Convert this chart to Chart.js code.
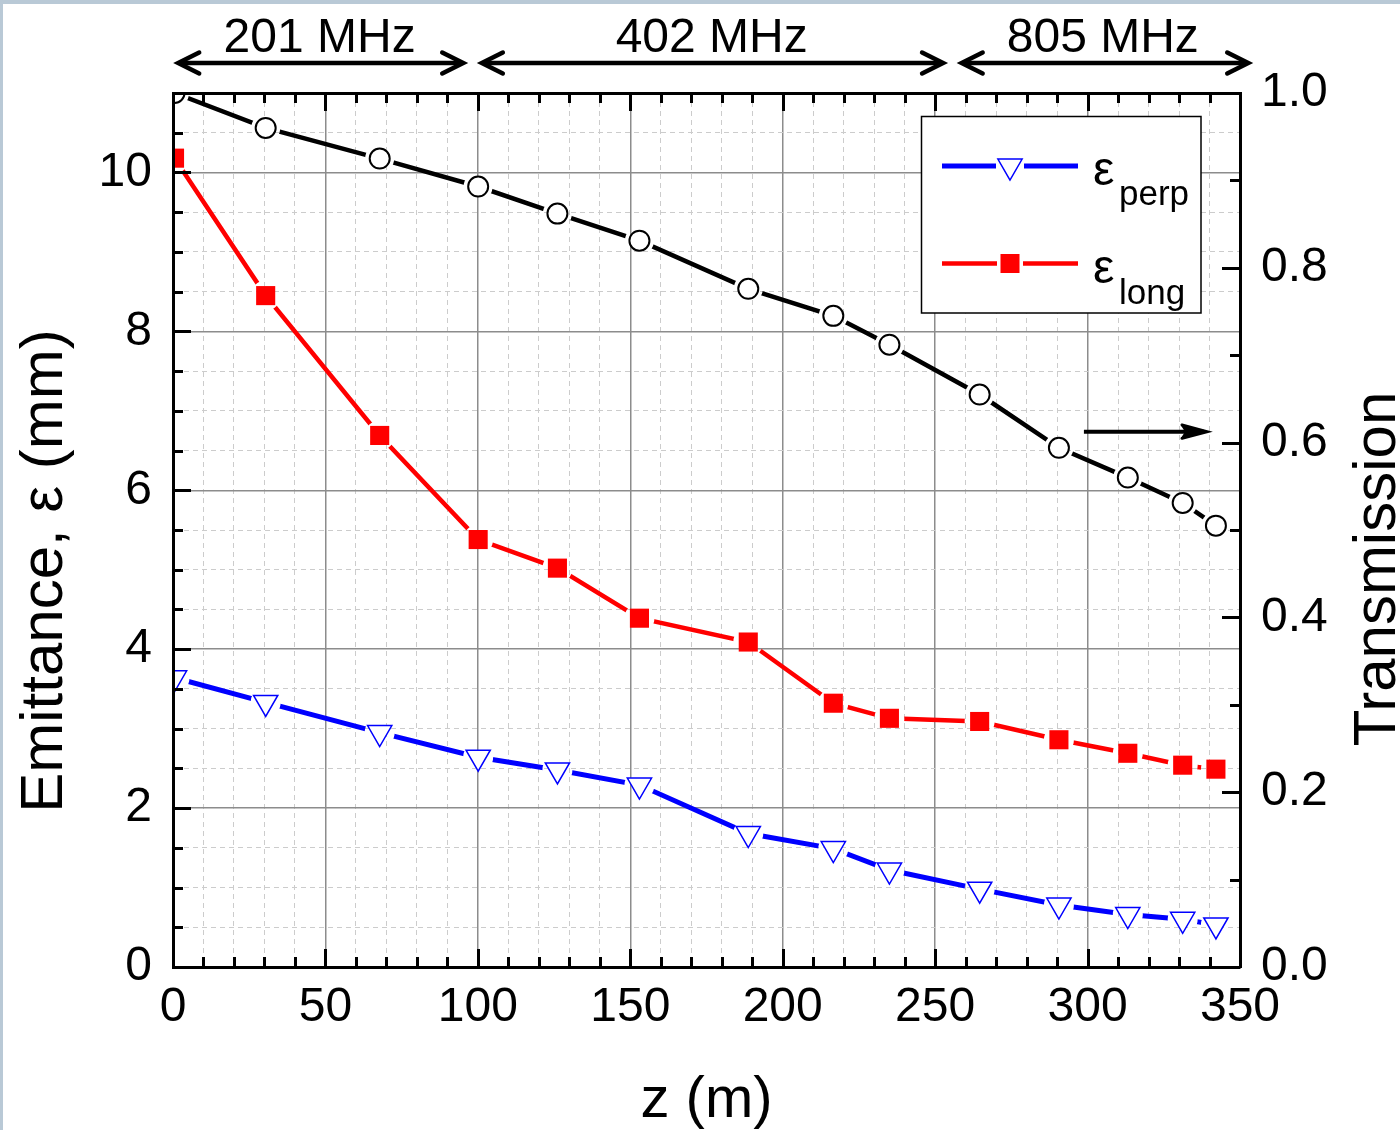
<!DOCTYPE html>
<html><head><meta charset="utf-8">
<script src="https://cdn.jsdelivr.net/npm/chart.js@4/dist/chart.umd.min.js"></script>
<style>html,body{margin:0;padding:0;background:#fff;}canvas{display:block;}</style>
</head><body>
<canvas id="c" width="1400" height="1130"></canvas>
<script>
// ---------- data ----------
const zPositions   = [0.5, 30.4, 67.8, 100.1, 126.1, 153.0, 188.7, 216.6, 235.0, 264.6, 290.6, 313.2, 331.2, 342.1];
const epsPerp      = [3.64, 3.33, 2.95, 2.64, 2.48, 2.29, 1.68, 1.49, 1.22, 0.98, 0.78, 0.66, 0.60, 0.53];
const epsLong      = [10.18, 8.45, 6.69, 5.38, 5.02, 4.39, 4.09, 3.32, 3.13, 3.09, 2.86, 2.69, 2.54, 2.49];
const transmission = [1.000, 0.960, 0.925, 0.893, 0.862, 0.831, 0.776, 0.745, 0.712, 0.655, 0.594, 0.560, 0.531, 0.505];
const bandLabels   = ['201 MHz', '402 MHz', '805 MHz'];
const bandStarts   = [1.7, 101.3, 258.7];
const bandEnds     = [95.2, 252.6, 352.7];
const bandLabelAt  = [48.1, 176.7, 305.0];
const legendSubs   = ['perp', 'long'];
const xTitle = 'z (m)';
const yTitle = 'Emittance, \u03B5 (mm)';
const y2Title = 'Transmission';

const FF = '"Liberation Sans", Arial, Helvetica, sans-serif';
const pts = arr => zPositions.map((z, i) => ({x: z, y: arr[i]}));
const near = (v, m) => Math.abs(v / m - Math.round(v / m)) < 1e-6;

// ---------- plugins ----------
const bgPlugin = {
  id: 'bg',
  beforeDraw(chart) {
    const c = chart.ctx;
    c.save();
    c.fillStyle = '#fff'; c.fillRect(0, 0, chart.width, chart.height);
    c.fillStyle = '#b9c9d6';
    c.fillRect(0, 0, chart.width, 4);
    c.fillRect(0, 0, 3, chart.height);
    c.restore();
  }
};

const gapPlugin = {
  id: 'gaps',
  beforeDatasetDraw(chart, args) {
    const ds = chart.data.datasets[args.index];
    if (!ds.gapRadius) return;
    const c = chart.ctx;
    c.save();
    c.beginPath();
    c.rect(0, 0, chart.width, chart.height);
    args.meta.data.forEach(p => {
      c.moveTo(p.x + ds.gapRadius, p.y);
      c.arc(p.x, p.y, ds.gapRadius, 0, Math.PI * 2);
    });
    c.clip('evenodd');
  },
  afterDatasetDraw(chart, args) {
    if (chart.data.datasets[args.index].gapRadius) chart.ctx.restore();
  }
};

function seg(c, x1, y1, x2, y2) { c.beginPath(); c.moveTo(x1, y1); c.lineTo(x2, y2); c.stroke(); }
function chevron(c, tipX, y, dir, len, half) {
  c.beginPath();
  c.moveTo(tipX - dir * len, y - half);
  c.lineTo(tipX, y);
  c.lineTo(tipX - dir * len, y + half);
  c.stroke();
}

const decorPlugin = {
  id: 'decor',
  afterDraw(chart) {
    const c = chart.ctx, a = chart.chartArea;
    const xs = chart.scales.x, ys = chart.scales.y, y2 = chart.scales.y2;
    c.save();
    // tick marks (inward)
    c.strokeStyle = '#000'; c.lineWidth = 3; c.lineCap = 'butt';
    xs.ticks.forEach(t => {
      const px = Math.round(xs.getPixelForValue(t.value)) + 0.5;
      const L = near(t.value, 50) ? 18 : 10;
      seg(c, px, a.bottom, px, a.bottom - L);
      seg(c, px, a.top, px, a.top + L);
    });
    ys.ticks.forEach(t => {
      const py = Math.round(ys.getPixelForValue(t.value)) + 0.5;
      const L = near(t.value, 2) ? 18 : 10;
      seg(c, a.left, py, a.left + L, py);
    });
    y2.ticks.forEach(t => {
      const py = Math.round(y2.getPixelForValue(t.value)) + 0.5;
      const L = near(t.value, 0.2) ? 18 : 10;
      seg(c, a.right, py, a.right - L, py);
    });

    // frequency bands above the plot
    c.fillStyle = '#000';
    c.font = '48px ' + FF;
    c.textAlign = 'center'; c.textBaseline = 'alphabetic';
    c.lineWidth = 4.5; c.lineJoin = 'miter'; c.lineCap = 'round';
    bandLabels.forEach((lab, i) => {
      const x1 = xs.getPixelForValue(bandStarts[i]);
      const x2 = xs.getPixelForValue(bandEnds[i]);
      const y = 63;
      c.fillText(lab, xs.getPixelForValue(bandLabelAt[i]), 52);
      seg(c, x1 + 2, y, x2 - 2, y);
      chevron(c, x2, y, 1, 21, 10.5);
      chevron(c, x1, y, -1, 21, 10.5);
    });

    // arrow pointing to the transmission axis
    const ax1 = xs.getPixelForValue(298.8), ax2 = xs.getPixelForValue(339.2);
    const ay = y2.getPixelForValue(0.6125);
    c.lineCap = 'butt'; c.lineWidth = 4;
    seg(c, ax1, ay, ax2 - 3, ay);
    c.beginPath();
    c.moveTo(ax2, ay);
    c.lineTo(ax2 - 27, ay - 7.5);
    c.lineTo(ax2 - 22, ay);
    c.lineTo(ax2 - 27, ay + 7.5);
    c.closePath();
    c.fill();
    c.lineWidth = 3;
    chevron(c, ax2, ay, 1, 26, 7);

    // axis titles (left and right)
    c.font = '60px ' + FF;
    c.textAlign = 'center'; c.textBaseline = 'alphabetic';
    c.save(); c.translate(62, 571); c.rotate(-Math.PI / 2); c.fillText(yTitle, 0, 0); c.restore();
    c.save(); c.translate(1395, 569); c.rotate(-Math.PI / 2); c.fillText(y2Title, 0, 0); c.restore();

    // legend
    c.fillStyle = '#fff';
    c.fillRect(921, 116, 280, 197);
    c.strokeStyle = '#000'; c.lineWidth = 1.5;
    c.strokeRect(921.5, 116.5, 279.5, 196.5);
    // row 1 : perp
    let ly = 166;
    c.strokeStyle = '#0000ff'; c.lineWidth = 5; c.lineCap = 'butt';
    seg(c, 942, ly, 996, ly); seg(c, 1024, ly, 1078, ly);
    const r = 14, cx = 1010;
    c.beginPath();
    for (let k = 0; k < 3; k++) {
      const ang = Math.PI + k * 2 * Math.PI / 3;
      const px = cx + Math.sin(ang) * r, py = ly - Math.cos(ang) * r;
      if (k === 0) c.moveTo(px, py); else c.lineTo(px, py);
    }
    c.closePath(); c.fillStyle = '#fff'; c.fill(); c.lineWidth = 1.5; c.stroke();
    // row 2 : long
    ly = 263.5;
    c.strokeStyle = '#ff0000'; c.lineWidth = 4.5;
    seg(c, 942, ly, 997, ly); seg(c, 1023, ly, 1078, ly);
    c.fillStyle = '#ff0000'; c.fillRect(cx - 9.5, ly - 9.5, 19, 19);
    // legend texts
    c.fillStyle = '#000'; c.textAlign = 'left';
    c.font = '48px ' + FF;
    c.fillText('\u03B5', 1093, 185);
    c.fillText('\u03B5', 1093, 283);
    c.font = '35px ' + FF;
    c.fillText(legendSubs[0], 1119, 205);
    c.fillText(legendSubs[1], 1119, 304);
    c.restore();
  }
};

// ---------- chart ----------
const majorX = c => c.tick && near(c.tick.value, 50);
const majorY = c => c.tick && near(c.tick.value, 2);
const tickFont = {family: FF, size: 48};

new Chart(document.getElementById('c'), {
  type: 'line',
  data: {
    datasets: [
      {label: '\u03B5perp', data: pts(epsPerp), yAxisID: 'y', showLine: false,
       pointStyle: 'triangle', pointRotation: 180, pointRadius: 14, pointBorderWidth: 1.5,
       pointBorderColor: '#0000ff', pointBackgroundColor: '#ffffff', clip: 0},
      {label: '\u03B5long', data: pts(epsLong), yAxisID: 'y', showLine: false,
       pointStyle: 'rect', pointRadius: 13.5, pointBorderWidth: 0,
       pointBorderColor: '#ff0000', pointBackgroundColor: '#ff0000', clip: 0},
      {label: 'Transmission', data: pts(transmission), yAxisID: 'y2', showLine: false,
       pointStyle: 'circle', pointRadius: 10, pointBorderWidth: 2,
       pointBorderColor: '#000000', pointBackgroundColor: '#ffffff', clip: 0},
      {label: 'perp line', data: pts(epsPerp), yAxisID: 'y', borderColor: '#0000ff',
       borderWidth: 5, pointRadius: 0, tension: 0, gapRadius: 15, clip: 0},
      {label: 'long line', data: pts(epsLong), yAxisID: 'y', borderColor: '#ff0000',
       borderWidth: 4.5, pointRadius: 0, tension: 0, gapRadius: 15, clip: 0},
      {label: 'trans line', data: pts(transmission), yAxisID: 'y2', borderColor: '#000000',
       borderWidth: 4.5, pointRadius: 0, tension: 0, gapRadius: 14.5, clip: 0}
    ]
  },
  options: {
    responsive: false, animation: false, devicePixelRatio: 1, events: [],
    layout: {padding: 0},
    plugins: {legend: {display: false}, tooltip: {enabled: false}},
    scales: {
      x: {
        type: 'linear', position: 'bottom', min: 0, max: 350,
        ticks: {stepSize: 10, autoSkip: false, maxRotation: 0, minRotation: 0, padding: 12,
                color: '#000', font: tickFont,
                callback: v => near(v, 50) ? String(Math.round(v)) : ''},
        grid: {drawTicks: false, tickLength: 0,
               color: c => majorX(c) ? '#8c8c8c' : '#cccccc',
               lineWidth: c => majorX(c) ? 1.5 : 1},
        border: {display: true, width: 3, color: '#000', z: 1,
                 dash: c => majorX(c) ? [] : [5, 4]},
        title: {display: true, text: xTitle, color: '#000',
                font: {family: FF, size: 58, lineHeight: 1}, padding: {top: 0, bottom: 0}},
        afterFit: s => { s.height = 163; }
      },
      xTop: {
        type: 'linear', position: 'top', min: 0, max: 350,
        ticks: {display: false, stepSize: 10},
        grid: {display: false, drawTicks: false},
        border: {display: true, width: 3, color: '#000', z: 1},
        afterFit: s => { s.height = 93; }
      },
      y: {
        type: 'linear', position: 'left', min: 0, max: 11,
        ticks: {stepSize: 0.5, autoSkip: false, padding: 21, color: '#000', font: tickFont,
                callback: v => near(v, 2) ? String(Math.round(v)) : ''},
        grid: {drawTicks: false, tickLength: 0,
               color: c => majorY(c) ? '#8c8c8c' : '#cccccc',
               lineWidth: c => majorY(c) ? 1.5 : 1},
        border: {display: true, width: 3, color: '#000', z: 1,
                 dash: c => majorY(c) ? [] : [5, 4]},
        afterFit: s => { s.width = 173; }
      },
      y2: {
        type: 'linear', position: 'right', min: 0, max: 1,
        ticks: {stepSize: 0.1, autoSkip: false, padding: 21, color: '#000', font: tickFont,
                callback: v => near(v, 0.2) ? v.toFixed(1) : ''},
        grid: {display: false, drawTicks: false},
        border: {display: true, width: 3, color: '#000', z: 1},
        afterFit: s => { s.width = 160; }
      }
    }
  },
  plugins: [bgPlugin, gapPlugin, decorPlugin]
});
</script>
</body></html>
